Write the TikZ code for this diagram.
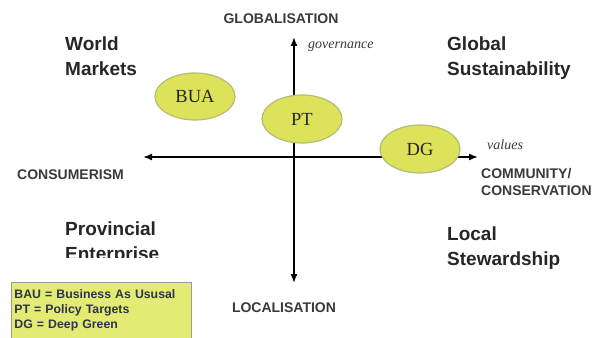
\documentclass[tikz,border=0pt]{standalone}
\usepackage{fontspec}
\setmainfont{Liberation Sans}
\newfontfamily\serifface{Liberation Serif}
\usetikzlibrary{shapes.geometric,arrows.meta}
\definecolor{blobfill}{HTML}{DCE35A}
\definecolor{blobedge}{HTML}{B5BC74}
\definecolor{keyfill}{HTML}{E3EB72}
\definecolor{axisgray}{HTML}{3A3A3A}
\definecolor{keytext}{HTML}{2E3350}
\tikzset{
  axis/.style={draw=black, line width=1.6pt, -{Latex[length=9pt,width=7pt]}},
  blob/.style={ellipse, draw=blobedge, line width=1.2pt, fill=blobfill,
    minimum width=80pt, minimum height=48pt, inner sep=0pt,
    font=\serifface\fontsize{18.5}{18.5}\selectfont, text=black!85},
  pole/.style={font=\bfseries\fontsize{14}{17}\selectfont, text=axisgray, inner sep=0pt},
  quad/.style={font=\bfseries\fontsize{19}{25}\selectfont, align=left, anchor=north west, inner sep=0pt, text=black!85},
  tag/.style={font=\serifface\itshape\fontsize{14}{14}\selectfont, inner sep=0pt, text=axisgray},
}
\begin{document}
\begin{tikzpicture}[x=1pt,y=-1pt]
  \useasboundingbox (0,0) rectangle (604,337);
  \fill[white] (0,0) rectangle (604,337);

  % axes
  \coordinate (c) at (294,157);
  \coordinate (top) at (294,37);
  \coordinate (bot) at (294,283);
  \coordinate (lft) at (143,157);
  \coordinate (rgt) at (478,157);
  \draw[axis] (c) -- (top);
  \draw[axis] (c) -- (bot);
  \draw[axis] (c) -- (lft);
  \draw[axis] (c) -- (rgt);

  % pole labels
  \node[pole] (glob) at (281,18.5) {GLOBALISATION};
  \node[pole] (loc) at (284,307.5) {LOCALISATION};
  \node[pole, anchor=west] (cons) at (17,174.5) {CONSUMERISM};
  \node[pole, anchor=north west, align=left] (comm) at (481,168) {COMMUNITY/\\CONSERVATION};
  \node[tag, anchor=west] (gov) at (308,47) {governance};
  \node[tag, anchor=west] (val) at (487,145) {values};

  % quadrant headings
  \node[quad] (wm) at (65,37) {World\\Markets};
  \node[quad] (gs) at (447,37) {Global\\Sustainability};
  \begin{scope}
    \clip (0,0) rectangle (604,257.5);
    \node[quad] (pe) at (65,222) {Provincial\\Enterprise};
  \end{scope}
  \node[quad] (ls) at (447,227) {Local\\Stewardship};

  % scenarios
  \node[blob, minimum height=47pt] (bua) at (195,96.5) {BUA};
  \node[blob] (pt) at (302,119) {PT};
  \node[blob] (dg) at (420,149) {DG};

  % key
  \node[draw=black!40, line width=0.8pt, fill=keyfill, anchor=north west,
    minimum width=180pt, minimum height=56pt, align=left, text width=174pt,
    inner xsep=3pt, inner ysep=4pt, font=\bfseries\fontsize{12.3}{15}\selectfont, text=keytext] (key) at (11,282)
    {BAU = Business As Ususal\\PT = Policy Targets\\DG = Deep Green};
\end{tikzpicture}
\end{document}
